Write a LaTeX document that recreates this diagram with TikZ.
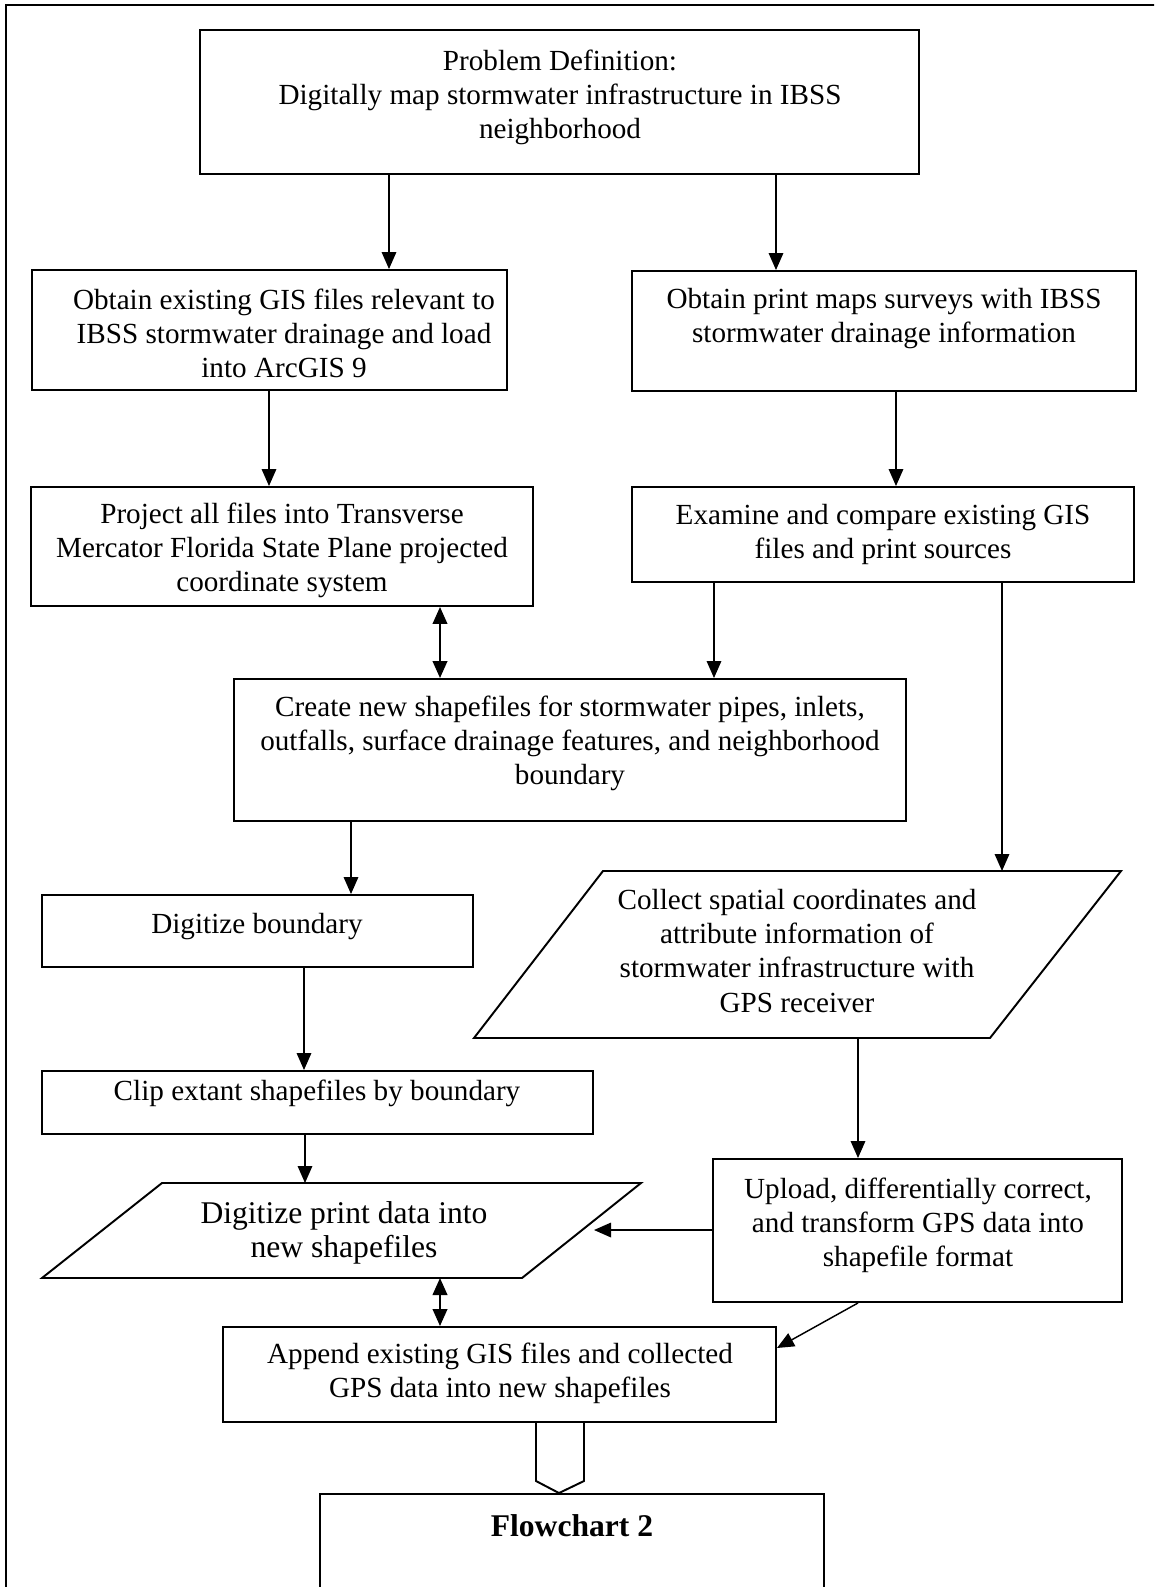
\documentclass[tikz,border=0pt]{standalone}
\usepackage{fontspec}
\setmainfont{Liberation Serif}
\usetikzlibrary{arrows.meta,fit}
\begin{document}
\begin{tikzpicture}[x=0.4115pt,y=-0.4115pt,
  box/.style={draw,line width=0.8pt,inner sep=0pt,rectangle},
  txt/.style={align=center,inner sep=0pt,font=\fontsize{12}{14}\selectfont},
  bigtxt/.style={align=center,inner sep=0pt,font=\fontsize{13}{14.2}\selectfont},
  shp/.style={draw,line width=0.8pt,line join=miter},
  arr/.style={line width=0.6pt,-{Triangle[length=7pt,width=6pt]}},
  darr/.style={line width=0.9pt,{Triangle[length=7pt,width=6pt]}-{Triangle[length=7pt,width=6pt]}}]
\useasboundingbox (0,0) rectangle (1154,1587);
\clip (0,0) rectangle (1154,1587);
% outer frame
\draw[line width=0.8pt] (1170,5) -- (6,5) -- (6,1600);
% rectangles
\node[box,fit={(200,30) (919,174)}] (b1) {};
\node[box,fit={(32,270) (507,390)}] (b2) {};
\node[box,fit={(632,271) (1136,391)}] (b3) {};
\node[box,fit={(31,487) (533,606)}] (b4) {};
\node[box,fit={(632,487) (1134,582)}] (b5) {};
\node[box,fit={(234,679) (906,821)}] (b6) {};
\node[box,fit={(42,895) (473,967)}] (b7) {};
\node[box,fit={(42,1071) (593,1134)}] (b8) {};
\node[box,fit={(713,1159) (1122,1302)}] (b10) {};
\node[box,fit={(223,1327) (776,1422)}] (b9) {};
\node[box,fit={(320,1494) (824,1640)}] (fc) {};
% parallelograms
\coordinate (cTL) at (603,871); \coordinate (cTR) at (1121,871);
\coordinate (cBR) at (990,1038); \coordinate (cBL) at (474,1038);
\draw[shp] (cTL) -- (cTR) -- (cBR) -- (cBL) -- cycle;
\coordinate (pTL) at (162,1183); \coordinate (pTR) at (641,1183);
\coordinate (pBR) at (522,1278); \coordinate (pBL) at (42,1278);
\draw[shp] (pTL) -- (pTR) -- (pBR) -- (pBL) -- cycle;
\coordinate (pR) at (594,1230);
% texts
\node[txt] (t1) at (560,97) {Problem Definition:\\Digitally map stormwater infrastructure in IBSS\\neighborhood};
\node[txt] (t2) at (284,333) {Obtain existing GIS files relevant to\\IBSS stormwater drainage and load\\into ArcGIS 9};
\node[txt] (t3) at (884,319) {Obtain print maps surveys with IBSS\\stormwater drainage information};
\node[txt] (t4) at (282,550) {Project all files into Transverse\\Mercator Florida State Plane projected\\coordinate system};
\node[txt] (t5) at (883,534) {Examine and compare existing GIS\\files and print sources};
\node[txt] (t6) at (570,743) {Create new shapefiles for stormwater pipes, inlets,\\outfalls, surface drainage features, and neighborhood\\boundary};
\node[txt] (t7) at (257,927) {Digitize boundary};
\node[txt] (t8) at (317,1093) {Clip extant shapefiles by boundary};
\node[txt] (tc) at (797,951) {Collect spatial coordinates and\\attribute information of\\stormwater infrastructure with\\GPS receiver};
\node[bigtxt] (tp) at (344,1233) {Digitize print data into\\new shapefiles};
\node[txt] (t10) at (918,1225) {Upload, differentially correct,\\and transform GPS data into\\shapefile format};
\node[txt] (t9) at (500,1373) {Append existing GIS files and collected\\GPS data into new shapefiles};
\node[bigtxt,font=\fontsize{13}{14.2}\selectfont\bfseries] (tf) at (572,1526) {Flowchart 2};
% connectors
\draw[arr] (b1.south -| 389,0) -- (b2.north -| 389,0);
\draw[arr] (b1.south -| 776,0) -- (b3.north -| 776,0);
\draw[arr] (b2.south -| 269,0) -- (b4.north -| 269,0);
\draw[arr] (b3.south -| 896,0) -- (b5.north -| 896,0);
\draw[darr] (b4.south -| 440,0) -- (b6.north -| 440,0);
\draw[arr] (b5.south -| 714,0) -- (b6.north -| 714,0);
\draw[arr] (b5.south -| 1002,0) -- (cTL -| 1002,0);
\draw[arr] (b6.south -| 351,0) -- (b7.north -| 351,0);
\draw[arr] (b7.south -| 304,0) -- (b8.north -| 304,0);
\draw[arr] (b8.south -| 305,0) -- (pTL -| 305,0);
\draw[arr] (cBL -| 858,0) -- (b10.north -| 858,0);
\draw[arr] (b10.west |- pR) -- (pR);
\draw[darr] (pBL -| 440,0) -- (b9.north -| 440,0);
\draw[arr] (b10.south -| 858,0) -- (b9.east |- 0,1348);
\draw[line width=0.8pt,line join=miter] (b9.south -| 536,0) -- (536,1481) -- (fc.north -| 559,0) -- (584,1481) -- (b9.south -| 584,0);
\end{tikzpicture}
\end{document}
